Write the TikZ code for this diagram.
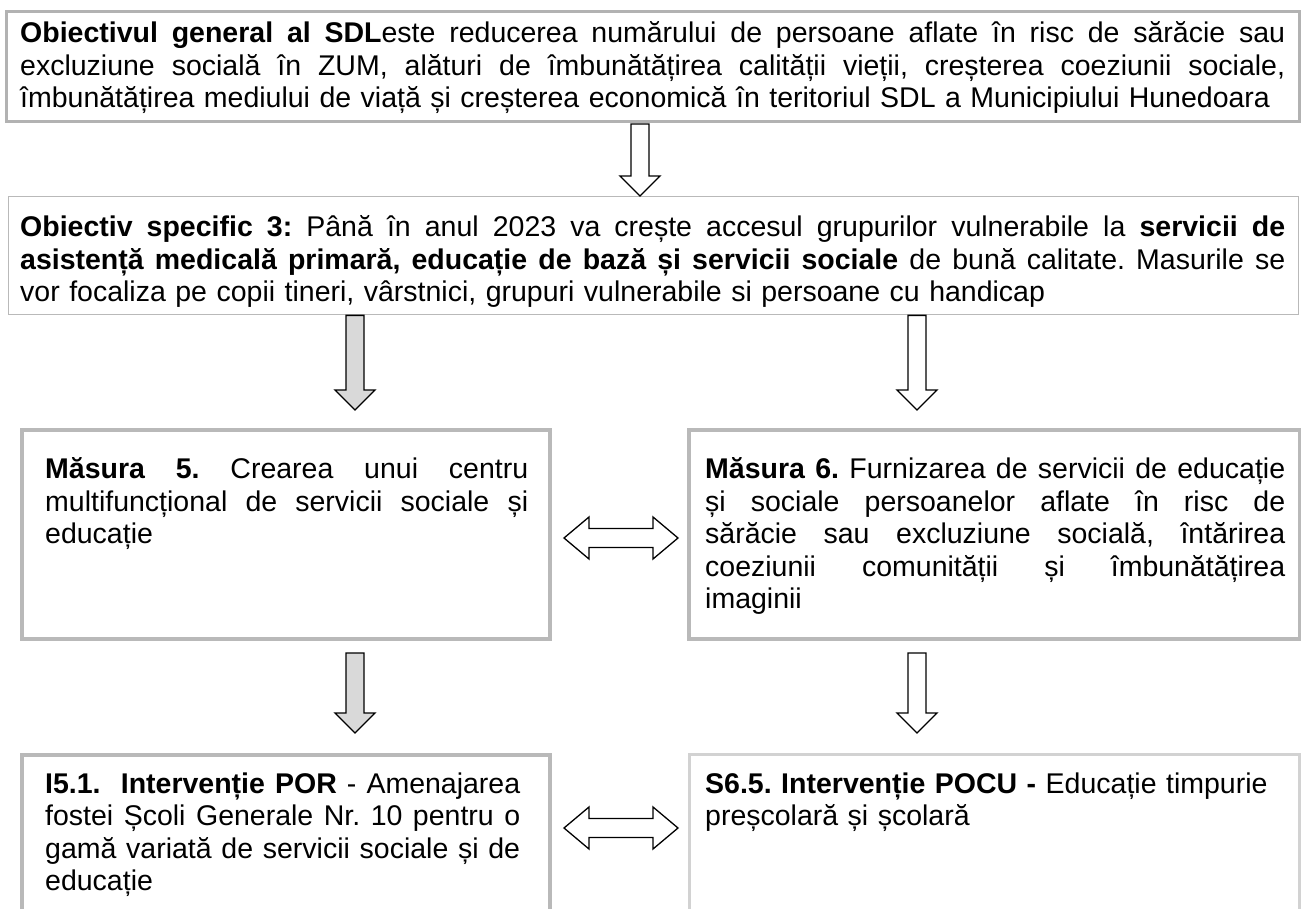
\documentclass[tikz,border=0pt]{standalone}
\usepackage{fontspec}
\setmainfont{Liberation Sans}
\usetikzlibrary{calc}
\newcommand{\jline}[2]{\makebox[#1][s]{\spaceskip=0.278em plus 1fil\relax\xspaceskip=\spaceskip #2}}
\newcommand{\downblock}[3]{%
  \draw[blockarrow,fill=#3] let \p1=#1, \p2=#2 in
  (\x1-9pt,\y1) -- (\x1+9pt,\y1) -- (\x1+9pt,\y2+20pt) -- (\x1+20pt,\y2+20pt)
  -- (\x1,\y2) -- (\x1-20pt,\y2+20pt) -- (\x1-9pt,\y2+20pt) -- cycle;}
\newcommand{\dblock}[2]{%
  \draw[blockarrow] let \p1=#1, \p2=#2 in
  (\x1,\y1) -- (\x1+25pt,\y1+21pt) -- (\x1+25pt,\y1+9.5pt) -- (\x2-25pt,\y1+9.5pt)
  -- (\x2-25pt,\y1+21pt) -- (\x2,\y1) -- (\x2-25pt,\y1-21pt) -- (\x2-25pt,\y1-9.5pt)
  -- (\x1+25pt,\y1-9.5pt) -- (\x1+25pt,\y1-21pt) -- cycle;}
\tikzset{
  boxbase/.style={rectangle, inner sep=0pt, anchor=north west},
  boxA/.style={boxbase, draw=gray!60, line width=3pt},
  boxB/.style={boxbase, draw=gray!55, line width=1.4pt},
  boxC/.style={boxbase, draw=gray!55, line width=4pt},
  boxD/.style={boxbase, draw=gray!35, line width=3pt},
  txt/.style={inner sep=0pt, anchor=base west, align=left,
    font=\fontsize{28.5}{32.5}\selectfont\frenchspacing},
  blockarrow/.style={draw=black, line width=1.3pt, line join=miter, fill=white},
}
\begin{document}
\begin{tikzpicture}[x=1pt,y=-1pt]
\useasboundingbox (0,0) rectangle (1301,909);
\clip (0,0) rectangle (1301,909);
\fill[white] (0,0) rectangle (1301,909);

% boxes
\node[boxA, minimum width=1293pt, minimum height=110pt] (b1) at (5,10) {};
\node[boxB, minimum width=1290pt, minimum height=118pt] (b2) at (8,196) {};
\node[boxC, minimum width=528pt, minimum height=209pt] (b3) at (20,428) {};
\node[boxC, minimum width=611pt, minimum height=209pt] (b4) at (687,428) {};
\node[boxC, minimum width=528pt, minimum height=200pt] (b5) at (20,753) {};
\node[boxD, minimum width=610pt, minimum height=200pt] (b6) at (688,753) {};

% arrow columns
\coordinate (cx1) at (640,0);
\coordinate (cxl) at (355,0);
\coordinate (cxr) at (917,0);
\coordinate (dy1) at (0,538);
\coordinate (dy2) at (0,828);

% arrows
\downblock{($(cx1 |- b1.south)+(0,1)$)}{(cx1 |- b2.north)}{white}
\downblock{(cxl |- b2.south)}{($(cxl |- b3.north)+(0,-18)$)}{gray!30}
\downblock{(cxr |- b2.south)}{($(cxr |- b3.north)+(0,-18)$)}{white}
\downblock{($(cxl |- b3.south)+(0,12)$)}{($(cxl |- b5.north)+(0,-20)$)}{gray!30}
\downblock{($(cxr |- b4.south)+(0,12)$)}{($(cxr |- b6.north)+(0,-20)$)}{white}
\dblock{($(b3.east |- dy1)+(12,0)$)}{($(b4.west |- dy1)+(-9,0)$)}
\dblock{($(b5.east |- dy2)+(12,0)$)}{($(b6.west |- dy2)+(-10,0)$)}

% texts
\node[txt, text width=1265pt] (t1) at (20,43) {%
\jline{1265pt}{\textbf{Obiectivul general al SDL}este reducerea numărului de persoane aflate în risc de sărăcie sau}\\
\jline{1265pt}{excluziune socială în ZUM, alături de îmbunătățirea calității vieții, creșterea coeziunii sociale,}\\
îmbunătățirea mediului de viață și creșterea economică în teritoriul SDL a Municipiului Hunedoara};

\node[txt, text width=1265pt] (t2) at (20,237) {%
\jline{1265pt}{\textbf{Obiectiv specific 3:} Până în anul 2023 va crește accesul grupurilor vulnerabile la \textbf{servicii de}}\\
\jline{1265pt}{\textbf{asistență medicală primară, educație de bază și servicii sociale} de bună calitate. Masurile se}\\
vor focaliza pe copii tineri, vârstnici, grupuri vulnerabile si persoane cu handicap};

\node[txt, text width=483pt] (t3) at (45,478.5) {%
\jline{483pt}{\textbf{Măsura 5.} Crearea unui centru}\\
\jline{483pt}{multifuncțional de servicii sociale și}\\
educație};

\node[txt, text width=580pt] (t4) at (705,478.5) {%
\jline{580pt}{\textbf{Măsura 6.} Furnizarea de servicii de educație}\\
\jline{580pt}{și sociale persoanelor aflate în risc de}\\
\jline{580pt}{sărăcie sau excluziune socială, întărirea}\\
\jline{580pt}{coeziunii comunității și îmbunătățirea}\\
imaginii};

\node[txt, text width=475pt] (t5) at (45,793) {%
\jline{475pt}{\textbf{I5.1.\ \ Intervenție POR} - Amenajarea}\\
\jline{475pt}{fostei Școli Generale Nr. 10 pentru o}\\
\jline{475pt}{gamă variată de servicii sociale și de}\\
educație};

\node[txt, text width=580pt] (t6) at (705,793) {%
\textbf{S6.5. Intervenție POCU -} Educație timpurie\\
preșcolară și școlară};
\end{tikzpicture}
\end{document}
